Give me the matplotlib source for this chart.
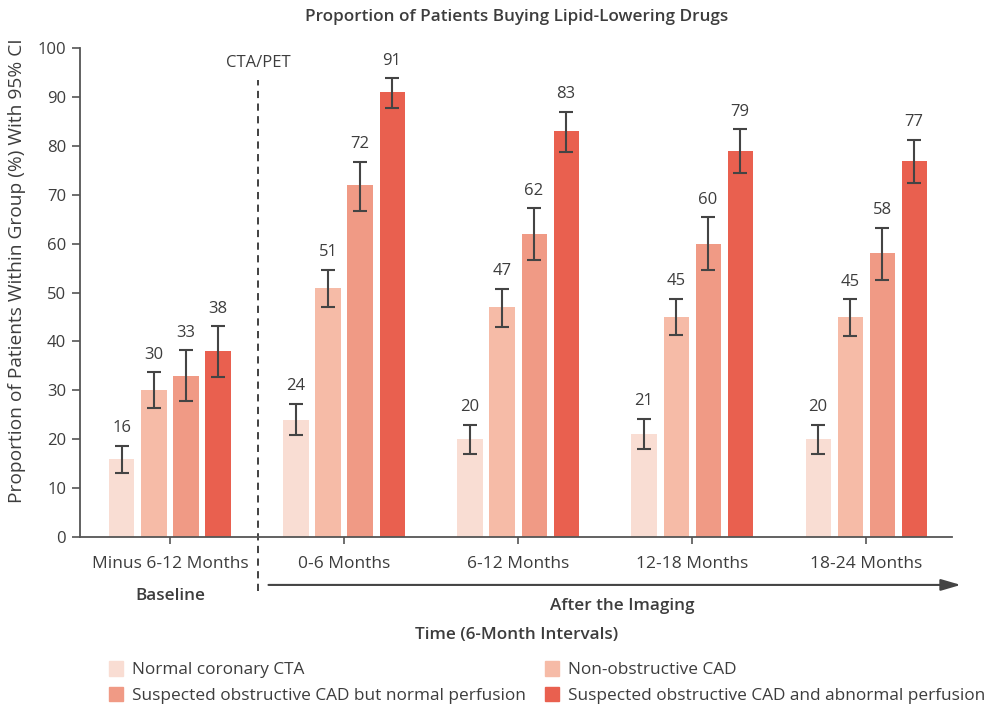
import numpy as np
import matplotlib
matplotlib.use('Agg')
import matplotlib.pyplot as plt
from matplotlib.patches import Patch

plt.rcParams['font.family'] = ['Open Sans', 'DejaVu Sans']

# Data: proportion of patients buying lipid-lowering drugs, with 95% CI
periods = ['Minus 6-12 Months', '0-6 Months', '6-12 Months', '12-18 Months', '18-24 Months']
groups = ['Normal coronary CTA', 'Non-obstructive CAD',
          'Suspected obstructive CAD but normal perfusion',
          'Suspected obstructive CAD and abnormal perfusion']
colors = ['#f9ddd3', '#f6bba7', '#f09a85', '#e9604f']

values = [
    [16, 24, 20, 21, 20],
    [30, 51, 47, 45, 45],
    [33, 72, 62, 60, 58],
    [38, 91, 83, 79, 77],
]
ci_low = [
    [13.1, 20.9, 16.9, 18.0, 16.9],
    [26.3, 47.0, 43.0, 41.3, 41.1],
    [27.8, 66.7, 56.6, 54.6, 52.6],
    [32.8, 87.7, 78.8, 74.5, 72.5],
]
ci_high = [
    [18.6, 27.2, 22.9, 24.1, 22.9],
    [33.7, 54.6, 50.7, 48.7, 48.6],
    [38.2, 76.8, 67.2, 65.4, 63.3],
    [43.1, 93.8, 86.9, 83.4, 81.3],
]

text_col = '#3d3d3d'
axis_col = '#555555'

fig = plt.figure(figsize=(9.88, 7.08), dpi=100)
ax = fig.add_axes([0.081, 0.2415, 0.8826, 0.6905])

x = np.arange(len(periods))
width = 0.144
step = 0.184

for i in range(len(groups)):
    xs = x + (i - 1.5) * step
    vals = np.array(values[i])
    lo = vals - np.array(ci_low[i])
    hi = np.array(ci_high[i]) - vals
    ax.bar(xs, vals, width, color=colors[i], label=groups[i], zorder=2)
    ax.errorbar(xs, vals, yerr=[lo, hi], fmt='none', ecolor='#444444',
                elinewidth=1.5, capsize=5, capthick=1.5, zorder=3)
    for xi, v, top in zip(xs, vals, ci_high[i]):
        ax.annotate(f'{v}', (xi, top), xytext=(0, 7), textcoords='offset points',
                    ha='center', va='bottom', fontsize=12, color=text_col)

ax.set_xlim(-0.517, 4.494)
ax.set_ylim(0, 100)
ax.set_yticks(np.arange(0, 101, 10))
ax.set_xticks(x)
ax.set_xticklabels(periods)
ax.tick_params(axis='y', length=6, width=1.2, color=axis_col, labelsize=12,
               labelcolor=text_col, pad=4)
ax.tick_params(axis='x', length=5, width=1.2, color=axis_col, labelsize=12.5,
               labelcolor=text_col, pad=9)
for side in ['top', 'right']:
    ax.spines[side].set_visible(False)
for side in ['left', 'bottom']:
    ax.spines[side].set_color(axis_col)
    ax.spines[side].set_linewidth(1.3)

ax.set_ylabel('Proportion of Patients Within Group (%) With 95% CI',
              fontsize=13.8, color=text_col)
ax.yaxis.set_label_coords(-0.062, 0.545)

# CTA/PET divider between baseline and follow-up
div_x = 0.506
ax.plot([div_x, div_x], [-11, 93.5], ls=(0, (4, 3)), color='#333333', lw=1.3,
        clip_on=False, zorder=1)
ax.text(div_x, 97.0, 'CTA/PET', ha='center', va='center', fontsize=12, color=text_col)

ax.text(0, -12, 'Baseline', ha='center', va='center', fontsize=12.3,
        fontweight='semibold', color=text_col)

# follow-up arrow
ax.annotate('', xy=(4.56, -9.8), xytext=(0.55, -9.8), xycoords='data',
            arrowprops=dict(arrowstyle='-|>,head_length=1.2,head_width=0.35',
                            color='#444444', lw=1.5),
            annotation_clip=False)
ax.text(2.6, -14.2, 'After the Imaging', ha='center', va='center', fontsize=12.3,
        fontweight='semibold', color=text_col)

fig.text(0.523, 0.103, 'Time (6-Month Intervals)', ha='center', va='center',
         fontsize=12.3, fontweight='semibold', color=text_col)
fig.text(0.523, 0.976, 'Proportion of Patients Buying Lipid-Lowering Drugs',
         ha='center', va='center', fontsize=12.3, fontweight='semibold', color=text_col)

handles = [Patch(color=c) for c in colors]
order = [0, 2, 1, 3]
leg = fig.legend([handles[k] for k in order], [groups[k] for k in order],
                 loc='upper left', bbox_to_anchor=(0.110, 0.066), ncol=2,
                 frameon=False, fontsize=12.4, handlelength=0.85, handleheight=0.9,
                 handletextpad=0.5, columnspacing=1.1, labelspacing=0.5,
                 borderaxespad=0, borderpad=0)
for t in leg.get_texts():
    t.set_color(text_col)

fig.savefig('out.png', dpi=100, facecolor='white')
